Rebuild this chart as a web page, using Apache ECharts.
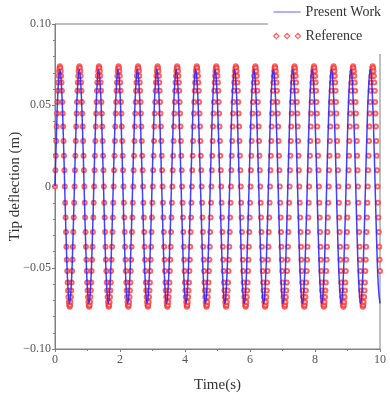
<!DOCTYPE html>
<html>
<head>
<meta charset="utf-8">
<script src="https://cdn.jsdelivr.net/npm/echarts@6/dist/echarts.min.js"></script>
<style>
  html, body { margin: 0; padding: 0; background: #fff; }
  #chart { width: 390px; height: 400px; }
</style>
</head>
<body>
<div id="chart"></div>
<script>
// tip deflection in mm, sampled evenly over 0..10 s
// present work: 202 samples (12 per cycle)
var presentWorkMm = [
  0,36,62,72,62,36,0,-36,-62,-72,-62,-36,
  0,36,62,72,62,36,0,-36,-62,-72,-62,-36,
  0,36,62,72,62,36,0,-36,-62,-72,-62,-36,
  0,36,62,72,62,36,0,-36,-62,-72,-62,-36,
  0,36,62,72,62,36,0,-36,-62,-72,-62,-36,
  0,36,62,72,62,36,0,-36,-62,-72,-62,-36,
  0,36,62,72,62,36,0,-36,-62,-72,-62,-36,
  0,36,62,72,62,36,0,-36,-62,-72,-62,-36,
  0,36,62,72,62,36,0,-36,-62,-72,-62,-36,
  0,36,62,72,62,36,0,-36,-62,-72,-62,-36,
  0,36,62,72,62,36,0,-36,-62,-72,-62,-36,
  0,36,62,72,62,36,0,-36,-62,-72,-62,-36,
  0,36,62,72,62,36,0,-36,-62,-72,-62,-36,
  0,36,62,72,62,36,0,-36,-62,-72,-62,-36,
  0,36,62,72,62,36,0,-36,-62,-72,-62,-36,
  0,36,62,72,62,36,0,-36,-62,-72,-62,-36,
  0,36,62,72,62,36,0,-36,-62,-72
];
// reference: 799 samples (48 per cycle)
var referenceMm = [
  0,10,19,28,37,45,52,59,64,68,71,73,74,73,71,68,64,59,52,45,37,28,19,10,0,-10,-19,-28,-37,-45,-52,-59,-64,-68,-71,-73,-74,-73,-71,-68,-64,-59,-52,-45,-37,-28,-19,-10,
  0,10,19,28,37,45,52,59,64,68,71,73,74,73,71,68,64,59,52,45,37,28,19,10,0,-10,-19,-28,-37,-45,-52,-59,-64,-68,-71,-73,-74,-73,-71,-68,-64,-59,-52,-45,-37,-28,-19,-10,
  0,10,19,28,37,45,52,59,64,68,71,73,74,73,71,68,64,59,52,45,37,28,19,10,0,-10,-19,-28,-37,-45,-52,-59,-64,-68,-71,-73,-74,-73,-71,-68,-64,-59,-52,-45,-37,-28,-19,-10,
  0,10,19,28,37,45,52,59,64,68,71,73,74,73,71,68,64,59,52,45,37,28,19,10,0,-10,-19,-28,-37,-45,-52,-59,-64,-68,-71,-73,-74,-73,-71,-68,-64,-59,-52,-45,-37,-28,-19,-10,
  0,10,19,28,37,45,52,59,64,68,71,73,74,73,71,68,64,59,52,45,37,28,19,10,0,-10,-19,-28,-37,-45,-52,-59,-64,-68,-71,-73,-74,-73,-71,-68,-64,-59,-52,-45,-37,-28,-19,-10,
  0,10,19,28,37,45,52,59,64,68,71,73,74,73,71,68,64,59,52,45,37,28,19,10,0,-10,-19,-28,-37,-45,-52,-59,-64,-68,-71,-73,-74,-73,-71,-68,-64,-59,-52,-45,-37,-28,-19,-10,
  0,10,19,28,37,45,52,59,64,68,71,73,74,73,71,68,64,59,52,45,37,28,19,10,0,-10,-19,-28,-37,-45,-52,-59,-64,-68,-71,-73,-74,-73,-71,-68,-64,-59,-52,-45,-37,-28,-19,-10,
  0,10,19,28,37,45,52,59,64,68,71,73,74,73,71,68,64,59,52,45,37,28,19,10,0,-10,-19,-28,-37,-45,-52,-59,-64,-68,-71,-73,-74,-73,-71,-68,-64,-59,-52,-45,-37,-28,-19,-10,
  0,10,19,28,37,45,52,59,64,68,71,73,74,73,71,68,64,59,52,45,37,28,19,10,0,-10,-19,-28,-37,-45,-52,-59,-64,-68,-71,-73,-74,-73,-71,-68,-64,-59,-52,-45,-37,-28,-19,-10,
  0,10,19,28,37,45,52,59,64,68,71,73,74,73,71,68,64,59,52,45,37,28,19,10,0,-10,-19,-28,-37,-45,-52,-59,-64,-68,-71,-73,-74,-73,-71,-68,-64,-59,-52,-45,-37,-28,-19,-10,
  0,10,19,28,37,45,52,59,64,68,71,73,74,73,71,68,64,59,52,45,37,28,19,10,0,-10,-19,-28,-37,-45,-52,-59,-64,-68,-71,-73,-74,-73,-71,-68,-64,-59,-52,-45,-37,-28,-19,-10,
  0,10,19,28,37,45,52,59,64,68,71,73,74,73,71,68,64,59,52,45,37,28,19,10,0,-10,-19,-28,-37,-45,-52,-59,-64,-68,-71,-73,-74,-73,-71,-68,-64,-59,-52,-45,-37,-28,-19,-10,
  0,10,19,28,37,45,52,59,64,68,71,73,74,73,71,68,64,59,52,45,37,28,19,10,0,-10,-19,-28,-37,-45,-52,-59,-64,-68,-71,-73,-74,-73,-71,-68,-64,-59,-52,-45,-37,-28,-19,-10,
  0,10,19,28,37,45,52,59,64,68,71,73,74,73,71,68,64,59,52,45,37,28,19,10,0,-10,-19,-28,-37,-45,-52,-59,-64,-68,-71,-73,-74,-73,-71,-68,-64,-59,-52,-45,-37,-28,-19,-10,
  0,10,19,28,37,45,52,59,64,68,71,73,74,73,71,68,64,59,52,45,37,28,19,10,0,-10,-19,-28,-37,-45,-52,-59,-64,-68,-71,-73,-74,-73,-71,-68,-64,-59,-52,-45,-37,-28,-19,-10,
  0,10,19,28,37,45,52,59,64,68,71,73,74,73,71,68,64,59,52,45,37,28,19,10,0,-10,-19,-28,-37,-45,-52,-59,-64,-68,-71,-73,-74,-73,-71,-68,-64,-59,-52,-45,-37,-28,-19,-10,
  0,10,19,28,37,45,52,59,64,68,71,73,74,73,71,68,64,59,52,45,37,28,19,10,0,-10,-19,-28,-37,-45,-52
];
var tEnd = 10;
var xTicks = [0, 2, 4, 6, 8, 10];
var yTicks = [-0.10, -0.05, 0, 0.05, 0.10];

function toPairs(mm) {
  var step = tEnd / (mm.length - 1);
  return mm.map(function (v, i) { return [i * step, v / 1000]; });
}

var serif = '"Liberation Serif", "Times New Roman", serif';
var axisGray = '#808080';

var chart = echarts.init(document.getElementById('chart'));
chart.setOption({
  animation: false,
  grid: {
    left: 55, right: 10, top: 24, bottom: 51,
    containLabel: false, outerBoundsMode: 'none',
    show: true, borderColor: axisGray, borderWidth: 1
  },
  legend: {
    orient: 'vertical',
    left: 268,
    top: 0,
    padding: [4, 4, 10, 5],
    backgroundColor: '#fff',
    itemWidth: 27,
    itemHeight: 6,
    itemGap: 8,
    textStyle: { fontFamily: serif, fontSize: 14, color: '#333', lineHeight: 16 },
    data: [
      { name: 'Present Work', icon: 'path://M0,2.6 L30,2.6 L30,3.4 L0,3.4 Z', itemStyle: { color: '#2020ff' } },
      { name: 'Reference', icon: 'path://M3,0 L6,3 L3,6 L0,3 Z M15,0 L18,3 L15,6 L12,3 Z M27,0 L30,3 L27,6 L24,3 Z',
        itemStyle: { color: 'rgba(255,255,255,0)', borderColor: '#ff3030', borderWidth: 1.2 } }
    ]
  },
  xAxis: {
    type: 'value',
    min: 0, max: tEnd, interval: 2,
    name: 'Time(s)', nameLocation: 'middle', nameGap: 29, nameMoveOverlap: false,
    nameTextStyle: { fontFamily: serif, fontSize: 15, color: '#333' },
    axisLine: { onZero: false, lineStyle: { color: axisGray } },
    axisTick: { inside: false, length: 3, lineStyle: { color: axisGray } },
    minorTick: { show: true, splitNumber: 2, length: 2, lineStyle: { color: axisGray } },
    splitLine: { show: false },
    axisLabel: {
      fontFamily: serif, fontSize: 12, color: '#555', margin: 5,
      formatter: function (v) { return xTicks.indexOf(v) >= 0 ? String(v) : ''; }
    }
  },
  yAxis: {
    type: 'value',
    min: -0.1, max: 0.1, interval: 0.05,
    name: 'Tip deflection (m)', nameLocation: 'middle', nameGap: 32, nameMoveOverlap: false,
    nameTextStyle: { fontFamily: serif, fontSize: 15, color: '#333' },
    axisLine: { show: true, lineStyle: { color: axisGray } },
    axisTick: { show: true, length: 3, lineStyle: { color: axisGray } },
    minorTick: { show: true, splitNumber: 5, length: 2, lineStyle: { color: axisGray } },
    splitLine: { show: false },
    axisLabel: {
      fontFamily: serif, fontSize: 12, color: '#555', margin: 4,
      formatter: function (v) {
        if (Math.abs(v) < 1e-9) return '0';
        var s = Math.abs(v).toFixed(2);
        return v < 0 ? '\u2212' + s : s;
      }
    }
  },
  series: [
    {
      name: 'Reference',
      type: 'scatter',
      data: toPairs(referenceMm),
      symbol: 'emptyCircle',
      symbolSize: 4,
      z: 2,
      itemStyle: { color: '#ff3030', borderColor: '#ff3030', borderWidth: 1, opacity: 0.75 }
    },
    {
      name: 'Present Work',
      type: 'line',
      data: toPairs(presentWorkMm),
      smooth: 0.5,
      showSymbol: false,
      z: 3,
      lineStyle: { color: '#2020ff', width: 1.5, opacity: 0.85 },
      itemStyle: { color: '#2020ff' }
    }
  ]
});
</script>
</body>
</html>
